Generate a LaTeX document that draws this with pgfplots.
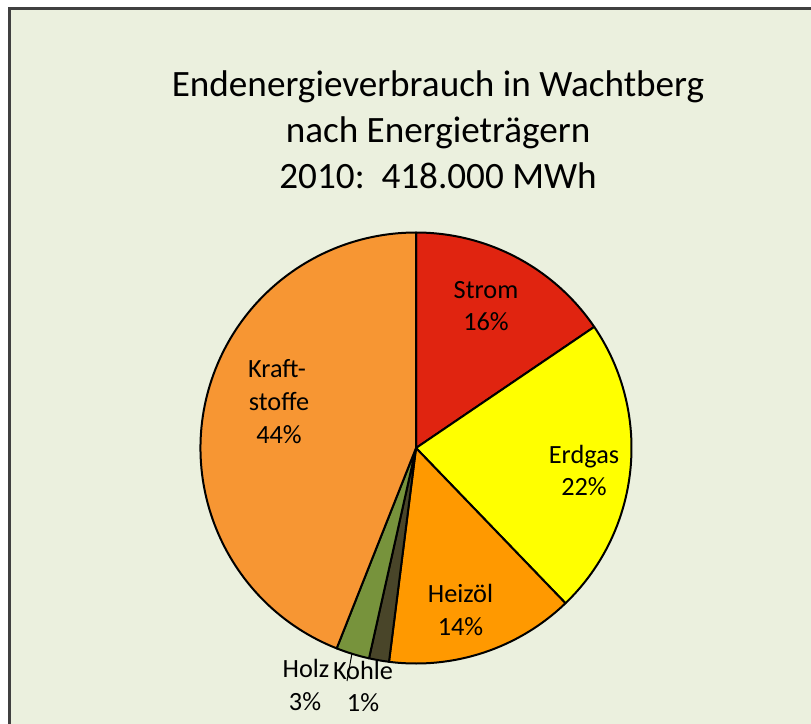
\documentclass[border=0pt]{standalone}
\usepackage{fontspec}
\setmainfont{Carlito}
\usepackage{pgfplots}
\usepackage{pgfplotstable}
\pgfplotsset{compat=1.18}
\definecolor{bg}{RGB}{235,240,222}
\definecolor{cStrom}{RGB}{224,36,16}
\definecolor{cErdgas}{RGB}{255,255,0}
\definecolor{cHeizoel}{RGB}{255,153,0}
\definecolor{cKohle}{RGB}{73,69,41}
\definecolor{cHolz}{RGB}{119,147,60}
\definecolor{cKraft}{RGB}{247,150,51}
\definecolor{framecol}{RGB}{64,64,64}

\pgfplotstableread{
name value color
Strom 15.5 cStrom
Erdgas 22.3 cErdgas
Heizoel 14.2 cHeizoel
Kohle 1.5 cKohle
Holz 2.5 cHolz
Kraftstoffe 44.0 cKraft
}\pietable

\newcommand\labfont{\fontsize{13.2}{16}\selectfont}
\newcommand\titfont{\fontsize{18.65}{22}\selectfont}

\begin{document}
\begin{tikzpicture}
\def\piecmds{}
\def\cum{0}
\pgfplotstablegetrowsof{\pietable}
\pgfmathtruncatemacro\nrows{\pgfplotsretval-1}
\pgfplotsforeachungrouped \i in {0,...,\nrows}{%
  \pgfplotstablegetelem{\i}{value}\of\pietable \let\sliceval\pgfplotsretval
  \pgfplotstablegetelem{\i}{color}\of\pietable \let\slicecol\pgfplotsretval
  \pgfmathsetmacro\angA{90-3.6*\cum}%
  \pgfmathsetmacro\angB{90-3.6*(\cum+\sliceval)}%
  \pgfmathsetmacro\cum{\cum+\sliceval}%
  \xdef\piecmds{\unexpanded\expandafter{\piecmds}\noexpand\filldraw[fill=\slicecol,draw=black,line width=1bp,line join=round] (axis cs:416,448) -- ++(\angA:107.75bp) arc[start angle=\angA,end angle=\angB,radius=107.75bp] -- cycle;}%
}
\begin{axis}[
  scale only axis, width=405.5bp, height=362bp,
  xmin=0, xmax=811, ymin=0, ymax=724, y dir=reverse,
  hide axis, clip=false]
\fill[white] (axis cs:0,0) rectangle (axis cs:811,724);
\fill[bg] (axis cs:9,8) rectangle (axis cs:811,724);
\draw[framecol, line width=1.4bp] (axis cs:9.5,724) -- (axis cs:9.5,8.5) -- (axis cs:811,8.5);
\node[anchor=base, font=\titfont] at (axis cs:438,97) {Endenergieverbrauch in Wachtberg};
\node[anchor=base, font=\titfont] at (axis cs:438,142) {nach Energieträgern};
\node[anchor=base, font=\titfont] at (axis cs:438,188) {2010:\ \ 418.000 MWh};
\piecmds
\draw[black, line width=0.5bp] (axis cs:352,653) -- (axis cs:347,681);
\node[anchor=base, font=\labfont] at (axis cs:486,298) {Strom};
\node[anchor=base, font=\labfont] at (axis cs:486,330) {16\%};
\node[anchor=base, font=\labfont] at (axis cs:584,463) {Erdgas};
\node[anchor=base, font=\labfont] at (axis cs:584,495) {22\%};
\node[anchor=base, font=\labfont] at (axis cs:460.5,602) {Heizöl};
\node[anchor=base, font=\labfont] at (axis cs:460.5,635) {14\%};
\node[anchor=base, font=\labfont] at (axis cs:277,377) {Kraft-};
\node[anchor=base, font=\labfont] at (axis cs:279,410) {stoffe};
\node[anchor=base, font=\labfont] at (axis cs:279,443) {44\%};
\node[anchor=base, font=\labfont] at (axis cs:306,677) {Holz};
\node[anchor=base, font=\labfont] at (axis cs:305,710) {3\%};
\node[anchor=base, font=\labfont] at (axis cs:363,679) {Kohle};
\node[anchor=base, font=\labfont] at (axis cs:363,711) {1\%};
\end{axis}
\pgfresetboundingbox
\useasboundingbox (0,0) rectangle (405.5bp,362bp);
\end{tikzpicture}
\end{document}
